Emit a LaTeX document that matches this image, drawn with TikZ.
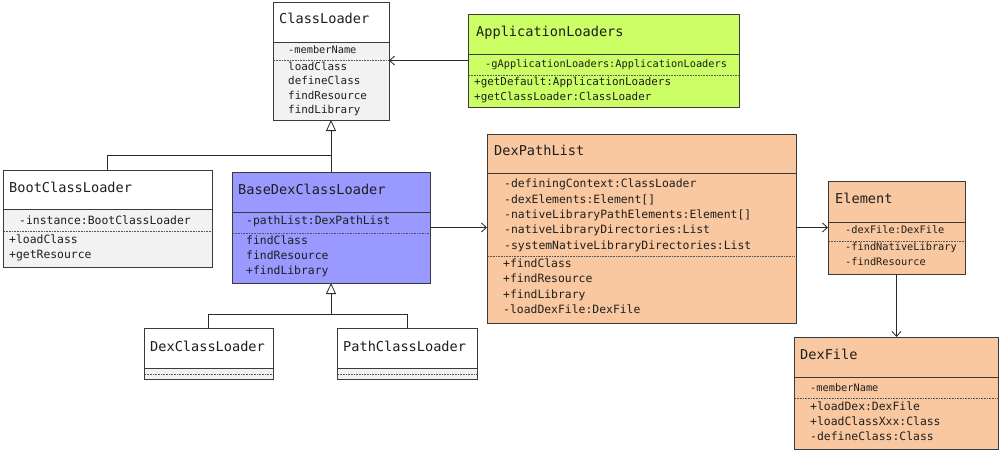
\documentclass[tikz,border=0pt]{standalone}
\usepackage{fontspec}
\setmonofont{DejaVu Sans Mono}
\usetikzlibrary{arrows.meta}
\definecolor{boxline}{HTML}{3A3A3A}
\definecolor{dotc}{HTML}{555555}
\definecolor{connc}{HTML}{2A2A2A}
\definecolor{txt}{HTML}{1E1E1E}
\definecolor{lgray}{HTML}{F2F2F2}
\definecolor{appg}{HTML}{CCFF66}
\definecolor{purp}{HTML}{9999FF}
\definecolor{peach}{HTML}{F9C8A0}
\newcommand\umlcls[9]{%
  \fill[#8] (#2,#3) rectangle (#4,#6);
  \fill[#9] (#2,#6) rectangle (#4,#5);
  \node[boxshape, minimum width={(#4-#2)*1pt}, minimum height={(#5-#3)*1pt}] (#1) at (#2,#3) {};
  \draw[divline] (#2,#6) -- (#4,#6);
  \draw[dotline] (#2+1,#7) -- (#4-1,#7);
}
\begin{document}
\begin{tikzpicture}[x=1pt,y=-1pt,
  boxshape/.style={draw=boxline, line width=0.9pt, rectangle, inner sep=0pt, outer sep=0pt, anchor=north west},
  ttl/.style={anchor=west, font=\ttfamily\fontsize{13.6}{15}\selectfont, text=txt, inner sep=0pt, text height=1.6ex, text depth=0.3ex},
  mem/.style={anchor=west, font=\ttfamily\fontsize{11.4}{12}\selectfont, text=txt, inner sep=0pt, text height=1.6ex, text depth=0.3ex},
  memm/.style={mem, font=\ttfamily\fontsize{10.9}{12}\selectfont},
  mems/.style={mem, font=\ttfamily\fontsize{10.3}{11}\selectfont},
  divline/.style={draw=boxline, line width=0.9pt},
  dotline/.style={draw=dotc, line width=0.6pt, dash pattern=on 0.8pt off 0.8pt},
  conn/.style={draw=connc, line width=0.8pt},
  gen/.style={conn, -{Triangle[open, length=11pt, width=10pt]}},
  assoc/.style={conn, -{Straight Barb[length=5pt, width=9pt]}},
]
\useasboundingbox (0,0) rectangle (1000,452);
\fill[white] (0,0) rectangle (1000,452);

% ClassLoader
\umlcls{cl}{273}{2}{389}{120}{42}{60}{white}{lgray}
\node[ttl] (clt) at (279,21) {ClassLoader};
\node[mems] (cl1) at (288,51) {-memberName};
\node[memm] (cl2) at (288,68) {loadClass};
\node[memm] (cl3) at (288,82) {defineClass};
\node[memm] (cl4) at (288,97) {findResource};
\node[memm] (cl5) at (288,111) {findLibrary};

% ApplicationLoaders
\umlcls{al}{468}{14}{739}{107}{54}{75}{appg}{appg}
\node[ttl] (alt) at (476,34) {ApplicationLoaders};
\node[mems] (al1) at (485,65) {-gApplicationLoaders:ApplicationLoaders};
\node[memm] (al2) at (474,83) {+getDefault:ApplicationLoaders};
\node[memm] (al3) at (474,98) {+getClassLoader:ClassLoader};

% BootClassLoader
\umlcls{bcl}{3}{170}{212}{267}{209}{231}{white}{lgray}
\node[ttl] (bclt) at (9,190) {BootClassLoader};
\node[mem] (bcl1) at (19,222) {-instance:BootClassLoader};
\node[mem] (bcl2) at (9,241) {+loadClass};
\node[mem] (bcl3) at (9,256) {+getResource};

% BaseDexClassLoader
\umlcls{bd}{232}{172}{430}{283}{212}{233}{purp}{purp}
\node[ttl] (bdt) at (238,192) {BaseDexClassLoader};
\node[mem] (bd1) at (246,222) {-pathList:DexPathList};
\node[mem] (bd2) at (246,242) {findClass};
\node[mem] (bd3) at (246,257) {findResource};
\node[mem] (bd4) at (246,272) {+findLibrary};

% DexPathList
\umlcls{dpl}{487}{134}{796}{323}{173}{256}{peach}{peach}
\node[ttl] (dplt) at (494,153) {DexPathList};
\node[mem] (dpl1) at (504,185) {-definingContext:ClassLoader};
\node[mem] (dpl2) at (504,201) {-dexElements:Element[]};
\node[mem] (dpl3) at (504,216) {-nativeLibraryPathElements:Element[]};
\node[mem] (dpl4) at (504,231) {-nativeLibraryDirectories:List};
\node[mem] (dpl5) at (504,247) {-systemNativeLibraryDirectories:List};
\node[mem] (dpl6) at (503,265) {+findClass};
\node[mem] (dpl7) at (503,280) {+findResource};
\node[mem] (dpl8) at (503,296) {+findLibrary};
\node[mem] (dpl9) at (503,311) {-loadDexFile:DexFile};

% Element
\umlcls{el}{828}{181}{965}{274}{222}{241}{peach}{peach}
\node[ttl] (elt) at (835,201) {Element};
\node[mems] (el1) at (845,231) {-dexFile:DexFile};
\node[mems] (el2) at (845,248) {-findNativeLibrary};
\node[mems] (el3) at (845,263) {-findResource};

% DexFile
\umlcls{df}{794}{337}{998}{449}{377}{398}{peach}{peach}
\node[ttl] (dft) at (800,357) {DexFile};
\node[mems] (df1) at (810,389) {-memberName};
\node[mem] (df2) at (810,408) {+loadDex:DexFile};
\node[mem] (df3) at (810,423) {+loadClassXxx:Class};
\node[mem] (df4) at (810,438) {-defineClass:Class};

% DexClassLoader / PathClassLoader
\umlcls{dcl}{144}{328}{273}{379}{368}{374}{white}{lgray}
\node[ttl] (dclt) at (150,349) {DexClassLoader};
\umlcls{pcl}{337}{328}{477}{379}{368}{374}{white}{lgray}
\node[ttl] (pclt) at (343,349) {PathClassLoader};

% Generalizations
\coordinate (j1) at (331,155);
\draw[conn] (bcl.north) |- (j1);
\draw[conn] (bd.north) -- (j1);
\draw[gen] (j1) -- (cl.south);
\coordinate (j2) at (331,314);
\draw[conn] (dcl.north) |- (j2);
\draw[conn] (pcl.north) |- (j2);
\draw[gen] (j2) -- (bd.south);

% Associations
\draw[assoc] (al.west) -- (al.west -| cl.east);
\draw[assoc] (bd.east) -- (bd.east -| dpl.west);
\draw[assoc] (dpl.east |- el.west) -- (el.west);
\draw[assoc] (el.south) -- (el.south |- df.north);
\end{tikzpicture}
\end{document}
